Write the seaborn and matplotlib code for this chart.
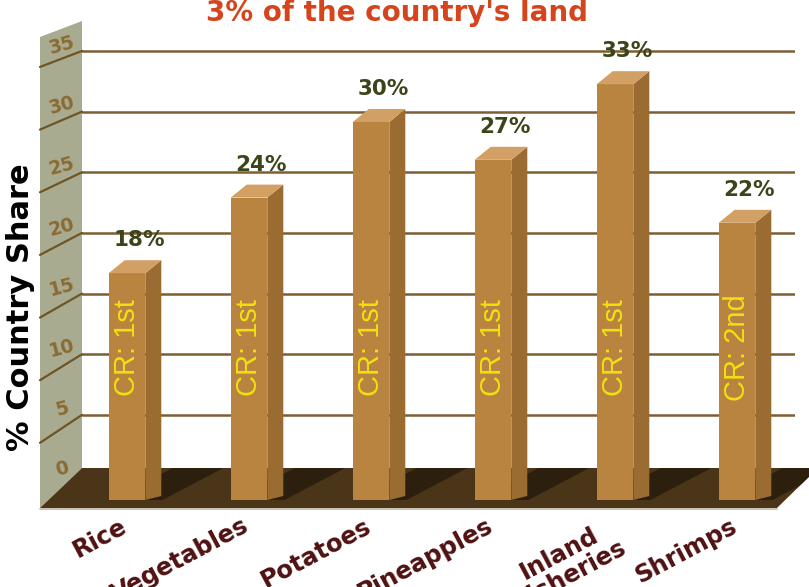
import numpy as np
import pandas as pd
import matplotlib
matplotlib.use("Agg")
import matplotlib.pyplot as plt
import matplotlib.transforms as mtransforms
from matplotlib.patches import Polygon
from matplotlib.lines import Line2D
import seaborn as sns

# ---------------- data ----------------
categories = ["Rice", "Vegetables", "Potatoes", "Pineapples", "Inland\nFisheries", "Shrimps"]
shares = [18, 24, 30, 27, 33, 22]
ranks = ["1st", "1st", "1st", "1st", "1st", "2nd"]
y_ticks = [0, 5, 10, 15, 20, 25, 30, 35]
title_text = "3% of the country's land"
y_label = "% Country Share"

# ---------------- style ----------------
FRONT = "#b8843f"
SIDE = "#9a6c31"
TOP = "#d2a065"
FLOOR = "#4a3518"
SHADOW = "#2c1f0e"
WALL = "#a9ab91"
WALL_LINE = "#6e5526"
TICK_COL = "#8a6b33"
GRID_COL = "#7d5e33"
VAL_COL = "#3c4419"
CAT_COL = "#4f1111"
TITLE_COL = "#d5441c"
CR_COL = "#f0e010"

W, H = 809, 587
sns.set_theme(style="white")
plt.rcParams['font.family'] = ['DejaVu Sans']

fig = plt.figure(figsize=(W / 100, H / 100), dpi=100)
fig.patch.set_facecolor("white")
# pixel coordinates measured from the top-left corner
px = mtransforms.Affine2D().scale(1 / W, -1 / H).translate(0, 1) + fig.transFigure

# ---------------- back plane (grid + wall) ----------------
back_left, back_right = 82, 795
ax_back = fig.add_axes([back_left / W, 87 / H, (back_right - back_left) / W, 500 / H])
ax_back.set_xlim(0, 1)
ax_back.set_ylim((475.5 - 500) / 12.13, 475.5 / 12.13)
ax_back.set_yticks(y_ticks)
ax_back.set_xticks([])
ax_back.yaxis.grid(True, color=GRID_COL, linewidth=1.8)
ax_back.tick_params(axis="y", length=0, labelleft=False)
for s in ax_back.spines.values():
    s.set_visible(False)
ax_back.patch.set_alpha(0)

wall = Polygon([(40, 37), (82, 21), (82, 468), (40, 508)], closed=True,
               facecolor=WALL, edgecolor="none", transform=px, clip_on=False, zorder=0)
ax_back.add_patch(wall)

for v in y_ticks:
    yr = H - ax_back.transData.transform((0, v))[1]
    if v > 0:
        drop = 16 + (35 - v) * 0.4
        ax_back.add_line(Line2D([82, 40], [yr, yr + drop], color=WALL_LINE, lw=1.6,
                                transform=px, clip_on=False, zorder=1))
    ax_back.text(62, yr - 6, str(v), transform=px, ha="center", va="center",
                 rotation=15, fontsize=13.5, fontweight="bold", color=TICK_COL,
                 clip_on=False, zorder=2)

# ---------------- front plane (floor + bars) ----------------
ax = fig.add_axes([0, 87 / H, 1, 500 / H])
df = pd.DataFrame({"category": categories, "share": shares})
sns.barplot(data=df, x="category", y="share", color=FRONT, saturation=1,
            width=0.30, ax=ax, zorder=4, linewidth=0, edgecolor="none")
bars = list(ax.patches)
ax.set_xlim(-127 / 122, (W - 127) / 122)
ax.set_ylim(0, 500 / 12.6)
ax.patch.set_alpha(0)
for s in ax.spines.values():
    s.set_visible(False)
ax.set_xlabel("")
ax.set_ylabel("")
ax.set_yticks([])
ax.set_xticks(range(len(categories)))
ax.set_xticklabels(categories)
ax.tick_params(axis="x", length=0, pad=10)
shift = mtransforms.ScaledTranslation(-7 / 100, 0, fig.dpi_scale_trans)
for lbl in ax.get_xticklabels():
    lbl.set_rotation(28)
    lbl.set_ha("right")
    lbl.set_rotation_mode("anchor")
    lbl.set_multialignment("center")
    lbl.set_fontsize(17.5)
    lbl.set_fontweight("bold")
    lbl.set_color(CAT_COL)
    lbl.set_linespacing(1.0)
    lbl.set_transform(lbl.get_transform() + shift)

floor = Polygon([(40, 508), (82, 468), (818, 468), (777, 508)], closed=True,
                facecolor=FLOOR, edgecolor="none", transform=px, clip_on=False, zorder=1)
ax.add_patch(floor)
ax.add_line(Line2D([40, 777], [509, 509], color="#bdb8a3", lw=1.2, transform=px,
                   clip_on=False, zorder=1))


def to_px(x, y):
    d = ax.transData.transform((x, y))
    return d[0], H - d[1]


DX, DY = 16, 13
for p in bars:
    x0 = p.get_x()
    x1 = x0 + p.get_width()
    h = p.get_height()
    fl, base = to_px(x0, 0)
    fr, top = to_px(x1, h)
    band = Polygon([(fl - 12, 508), (fr + 2, 508), (fr + 78, 468), (fl + 64, 468)],
                   closed=True, facecolor=SHADOW, edgecolor="none", transform=px, zorder=2)
    ax.add_patch(band)
    band.set_clip_path(floor)
    side = Polygon([(fr, base), (fr, top), (fr + DX, top - DY), (fr + DX, base - 4)],
                   closed=True, facecolor=SIDE, edgecolor="none", transform=px,
                   clip_on=False, zorder=4)
    ax.add_patch(side)
    topf = Polygon([(fl, top), (fr, top), (fr + DX, top - DY), (fl + DX, top - DY)],
                   closed=True, facecolor=TOP, edgecolor="none", transform=px,
                   clip_on=False, zorder=4)
    ax.add_patch(topf)

cr_trans = mtransforms.blended_transform_factory(ax.transData, ax.transAxes)
for i, (v, r) in enumerate(zip(shares, ranks)):
    ax.annotate(f"{v}%", xy=(i, v), xytext=(8.6, 23.8), textcoords="offset points",
                ha="center", va="center", fontsize=15.5, fontweight="bold",
                color=VAL_COL, zorder=6, annotation_clip=False)
    ax.text(i, 0.304, f"CR: {r}", transform=cr_trans, rotation=90, ha="center",
            va="center", fontsize=21, color=CR_COL, zorder=6,
            family=["Liberation Sans Narrow", "Liberation Sans", "DejaVu Sans"])

# ---------------- titles ----------------
fig.text(21, 307, y_label, transform=px, rotation=90, ha="center", va="center",
         fontsize=22, fontweight="bold", color="black")
fig.text(397, 21, title_text, transform=px, ha="center", va="baseline",
         fontsize=20, fontweight="bold", color=TITLE_COL)

fig.savefig("out.png", dpi=100)
